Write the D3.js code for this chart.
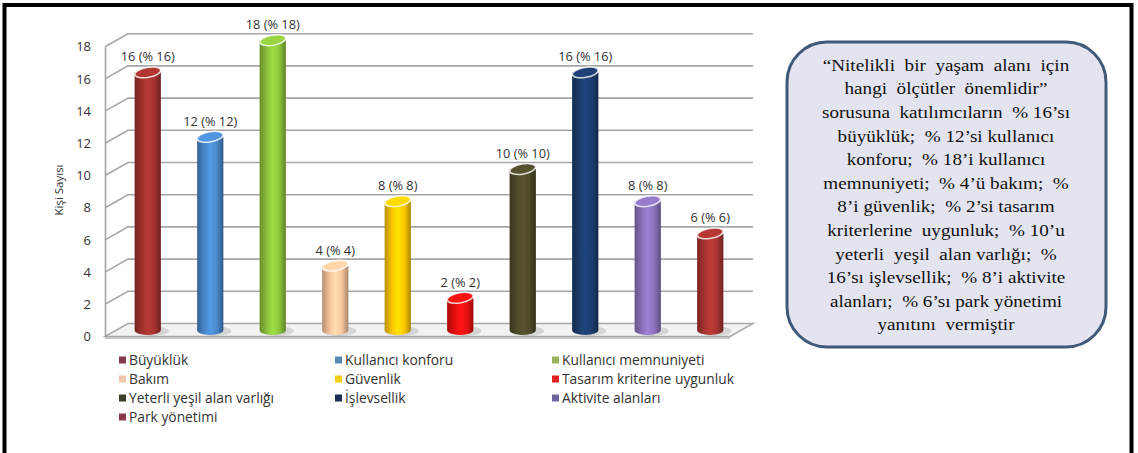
<!DOCTYPE html>
<html><head><meta charset="utf-8">
<script src="https://cdn.jsdelivr.net/npm/d3@7"></script>
<style>body{margin:0;background:#fff} svg{display:block}</style>
</head><body><svg id="c" width="1138" height="453"></svg>
<script>
const categories = ["Büyüklük","Kullanıcı konforu","Kullanıcı memnuniyeti","Bakım","Güvenlik","Tasarım kriterine uygunluk","Yeterli yeşil alan varlığı","İşlevsellik","Aktivite alanları","Park yönetimi"];
const values = [16,12,18,4,8,2,10,16,8,6];
const valueLabels = ["16 (% 16)","12 (% 12)","18 (% 18)","4 (% 4)","8 (% 8)","2 (% 2)","10 (% 10)","16 (% 16)","8 (% 8)","6 (% 6)"];
const barColors = ["#a3312f","#4a88cc","#8cc43c","#f7c59c","#fcc800","#e81010","#4e4a2a","#1c3d6e","#8b72bd","#a83431"];
const legendColors = ["#7e3a46","#5a8bb8","#9bb55c","#efc6ac","#f2cf16","#e02020","#3d3d2c","#1f3152","#6f66a0","#8a3a4a"];
const yTicks = [0,2,4,6,8,10,12,14,16,18];
const axisTitle = "Kişi Sayısı";
const noteLines = ["“Nitelikli  bir  yaşam  alanı  için","hangi  ölçütler  önemlidir”","sorusuna  katılımcıların  % 16’sı","büyüklük;  % 12’si kullanıcı","konforu;  % 18’i kullanıcı","memnuniyeti;  % 4’ü bakım;  %","8’i güvenlik;  % 2’si tasarım","kriterlerine  uygunluk;  % 10’u","yeterli  yeşil  alan varlığı;  %","16’sı işlevsellik;  % 8’i aktivite","alanları;  % 6’sı park yönetimi","yanıtını  vermiştir"];

const svg = d3.select("#c");
const defs = svg.append("defs");
svg.append("rect").attr("width",1138).attr("height",453).attr("fill","#fff");

const x0 = 105, x1 = 730, dx = 23, dy = -13;
const y = d3.scaleLinear().domain([0,18]).range([336.5,46.7]);
const x = d3.scaleBand().domain(categories).range([x0,x1]).paddingInner(0.58).paddingOuter(0.29);

// floor
const g = svg.append("g");
g.append("polygon")
  .attr("points",[[x0,y(0)],[x1,y(0)],[x1+dx,y(0)+dy],[x0+dx,y(0)+dy]].map(p=>p.join(",")).join(" "))
  .attr("fill","#f3f3f3").attr("stroke","#a8a8a8").attr("stroke-width",1.5);
g.append("line").attr("x1",x0).attr("x2",x1).attr("y1",y(0)+1.5).attr("y2",y(0)+1.5).attr("stroke","#c8c8c8").attr("stroke-width",2);

// gridlines
g.selectAll(".grid").data(yTicks.filter(t=>t>0)).join("polyline")
  .attr("points",d=>[[x0,y(d)],[x0+dx,y(d)+dy],[x1+dx,y(d)+dy]].map(p=>p.join(",")).join(" "))
  .attr("fill","none").attr("stroke","#a6a6a6").attr("stroke-width",1.6);

// axis
const ax = svg.append("g").attr("transform",`translate(${x0},0)`)
  .call(d3.axisLeft(y).tickValues(yTicks).tickSize(0).tickPadding(14));
ax.select(".domain").attr("stroke","#a6a6a6").attr("stroke-width",1.6);
ax.selectAll("text").attr("font-family","Open Sans").attr("font-size",13).attr("fill","#333");

svg.append("text").attr("transform","translate(63,190) rotate(-90)")
  .attr("text-anchor","middle").attr("font-family","Open Sans").attr("font-size",11.5).attr("fill","#333").text(axisTitle);

// gradients
barColors.forEach((c,i)=>{
  const gr = defs.append("linearGradient").attr("id","bg"+i).attr("x1","0").attr("x2","1").attr("y1","0").attr("y2","0");
  const base = d3.color(c);
  gr.append("stop").attr("offset","0").attr("stop-color",base.darker(0.9));
  gr.append("stop").attr("offset","0.3").attr("stop-color",base);
  gr.append("stop").attr("offset","0.5").attr("stop-color",base.brighter(0.35));
  gr.append("stop").attr("offset","0.75").attr("stop-color",base);
  gr.append("stop").attr("offset","1").attr("stop-color",base.darker(1.1));
});

// bars
const bw = x.bandwidth(), rx = bw/2, ry = 5;
const bars = svg.append("g").selectAll("g").data(categories).join("g");
bars.each(function(c,i){
  const sel = d3.select(this);
  const cx = x(c)+bw/2+dx/2;
  const yt = y(values[i])+dy/2, yb = y(0)+dy/2;
  sel.append("ellipse").attr("cx",cx+4).attr("cy",yb+1).attr("rx",rx+4).attr("ry",ry).attr("fill","#000").attr("opacity",0.12);
  sel.append("path")
    .attr("d",`M${cx-rx},${yt} L${cx-rx},${yb} A${rx},${ry} 0 0 0 ${cx+rx},${yb} L${cx+rx},${yt} Z`)
    .attr("fill",`url(#bg${i})`);
  sel.append("ellipse").attr("cx",cx).attr("cy",yt).attr("rx",rx).attr("ry",ry)
    .attr("transform",`rotate(-10,${cx},${yt})`)
    .attr("fill",d3.color(barColors[i]).brighter(0.25)).attr("stroke","#fff").attr("stroke-opacity",0.8).attr("stroke-width",1.5);
  sel.append("text").attr("x",cx).attr("y",yt-11).attr("text-anchor","middle")
    .attr("font-family","Open Sans").attr("font-size",12.8).attr("fill","#333").text(valueLabels[i]);
});

// legend
const colX = [119,335,552], rowY = [360,379,398,417];
const leg = svg.append("g").selectAll("g").data(categories).join("g")
  .attr("transform",(d,i)=>`translate(${colX[i%3]},${rowY[Math.floor(i/3)]})`);
leg.append("rect").attr("x",0).attr("y",-3.5).attr("width",7).attr("height",7).attr("fill",(d,i)=>legendColors[i]);
leg.append("text").attr("x",10).attr("y",0).attr("dy","0.35em").attr("font-family","Open Sans").attr("font-size",13.8).attr("fill","#333").text(d=>d);

// note box
svg.append("rect").attr("x",787).attr("y",42).attr("width",319).attr("height",305).attr("rx",40).attr("ry",40)
  .attr("fill","#e4e3f0").attr("stroke","#3f5a78").attr("stroke-width",3);
svg.append("g").attr("transform","translate(946,0) scale(1.16,1)")
  .selectAll("text").data(noteLines).join("text")
  .attr("x",0).attr("y",(d,i)=>65+i*23.6).attr("dy","0.35em").attr("text-anchor","middle")
  .attr("font-family","'Liberation Serif', 'DejaVu Serif', serif")
  .style("font-family","'Liberation Serif', 'DejaVu Serif', serif")
  .attr("font-size",16.5).attr("fill","#111")
  .style("white-space","pre").text(d=>d);

// outer frame
svg.append("path").attr("d","M4.5,453 V5 H1131.5 V453").attr("fill","none").attr("stroke","#000").attr("stroke-width",4);
</script>
</body></html>
